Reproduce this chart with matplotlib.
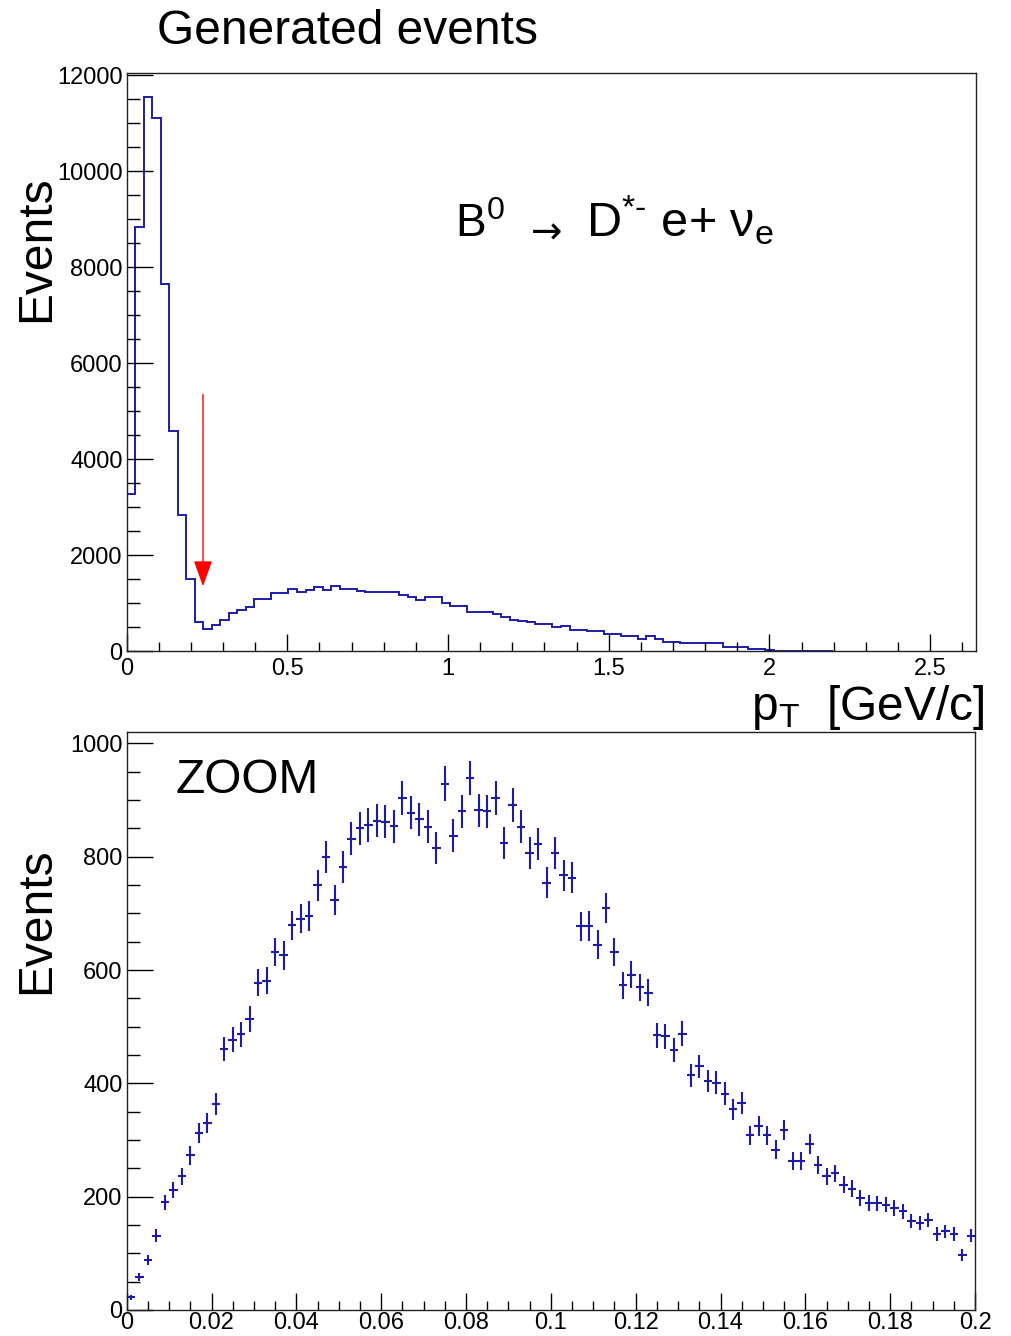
#!/bin/env python3
"""
Generated B0 -> D*- e+ nu_e events: pT spectrum and zoom of the low pT region.
"""
import numpy as np
import matplotlib
matplotlib.use('Agg')
import matplotlib.pyplot as plt
from matplotlib.ticker import MultipleLocator, FormatStrFormatter

# Full spectrum, fixed-width bins starting at 0 [GeV/c]
full_bin_width: float = 0.0265
full_counts = [3280, 8830, 11540, 11120, 7650, 4590, 2830, 1500,
               600, 460, 550, 650, 785, 850, 915, 1075, 1075, 1200, 1200, 1300,
               1230, 1265, 1330, 1270, 1360, 1300, 1290, 1255, 1225, 1225,
               1225, 1225, 1170, 1130, 1060, 1130, 1130, 1000, 935, 935,
               810, 810, 810, 780, 710, 640, 625, 600, 560, 560,
               500, 515, 430, 430, 410, 410, 350, 350, 320, 320,
               245, 310, 245, 195, 195, 160, 160, 160, 160, 160,
               90, 90, 90, 50, 50, 20, 10, 8, 7, 6,
               5, 4, 3]

# Zoomed spectrum 0 - 0.2 GeV/c
zoom_bin_width: float = 0.002
zoom_counts = [22, 58, 88, 131, 190, 212, 236, 273, 313, 330,
               364, 461, 477, 487, 514, 578, 581, 632, 626, 679,
               691, 695, 750, 799, 724, 782, 832, 850, 856, 864,
               862, 854, 904, 878, 866, 853, 815, 929, 837, 880,
               939, 882, 880, 904, 824, 891, 853, 806, 823, 754,
               806, 767, 763, 677, 678, 645, 710, 632, 573, 592,
               570, 560, 485, 483, 459, 488, 414, 430, 404, 401,
               382, 354, 365, 308, 325, 308, 283, 318, 263, 263,
               293, 256, 236, 241, 221, 214, 198, 189, 188, 186,
               180, 174, 157, 153, 159, 134, 139, 134, 97, 131]

# Cut marker (red arrow) on the full spectrum
cut_pt: float = 0.2375
arrow_from: float = 5350
arrow_to: float = 1350

HIST_COLOR = '#1c1ca8'
FONT = 'Liberation Sans'
BIG = 34.5  # titles, axis labels

plt.rcParams['font.family'] = [FONT, 'DejaVu Sans']
plt.rcParams['mathtext.fontset'] = 'custom'
plt.rcParams['mathtext.rm'] = FONT
plt.rcParams['mathtext.it'] = FONT
plt.rcParams['mathtext.bf'] = FONT + ':bold'


def style_axis(ax, x_major, x_minor, y_major, y_minor, x_pad=5):
    """ ROOT-like frame: inward ticks on the left and bottom only """
    ax.xaxis.set_major_locator(MultipleLocator(x_major))
    ax.xaxis.set_minor_locator(MultipleLocator(x_minor))
    ax.yaxis.set_major_locator(MultipleLocator(y_major))
    ax.yaxis.set_minor_locator(MultipleLocator(y_minor))
    ax.xaxis.set_major_formatter(FormatStrFormatter('%g'))
    ax.yaxis.set_major_formatter(FormatStrFormatter('%g'))
    ax.tick_params(axis='x', which='major', direction='in', length=12.3, width=1.0,
                   labelsize=17, pad=x_pad)
    ax.tick_params(axis='x', which='minor', direction='in', length=6.2, width=1.0)
    ax.tick_params(axis='y', which='major', direction='in', length=18.4, width=1.0,
                   labelsize=17, pad=3)
    ax.tick_params(axis='y', which='minor', direction='in', length=9.2, width=1.0)
    for sp in ax.spines.values():
        sp.set_linewidth(1.0)
        sp.set_color('#222222')


fig = plt.figure(figsize=(10.11, 13.36), dpi=100)

# ---- Full spectrum
ax1 = fig.add_axes([0.1253, 0.5127, 0.8401, 0.4330])
edges = np.arange(len(full_counts) + 1) * full_bin_width
ax1.stairs(full_counts, edges, color=HIST_COLOR, lw=1.4)
ax1.set_xlim(0, 2.643)
ax1.set_ylim(0, 12060)
style_axis(ax1, 0.5, 0.1, 2000, 500)
ax1.annotate('', xy=(cut_pt, arrow_to), xytext=(cut_pt, arrow_from),
             arrowprops=dict(arrowstyle='-|>,head_length=1.6,head_width=0.58',
                             mutation_scale=10, color='red', lw=1.0,
                             shrinkA=0, shrinkB=0))

# Decay label
ax1.text(0.3866, 0.716, r'B$^{0}$', transform=ax1.transAxes, fontsize=33, va='baseline')
ax1.text(0.4755, 0.705, '\u2192', transform=ax1.transAxes, fontsize=27, va='baseline',
         family='DejaVu Sans')
ax1.text(0.5405, 0.716, 'D$^{*\u2010}$ e+ \u03bd$_{e}$', transform=ax1.transAxes,
         fontsize=35, va='baseline')

# ---- Zoom
ax2 = fig.add_axes([0.1253, 0.0195, 0.8391, 0.4329])
centers = (np.arange(len(zoom_counts)) + 0.5) * zoom_bin_width
zoom_arr = np.array(zoom_counts, dtype=float)
ax2.errorbar(centers, zoom_arr, yerr=np.sqrt(zoom_arr), xerr=zoom_bin_width / 2,
             fmt='none', ecolor=HIST_COLOR, elinewidth=1.5, capsize=0)
ax2.set_xlim(0, 0.2)
ax2.set_ylim(0, 1021)
style_axis(ax2, 0.02, 0.005, 200, 50, x_pad=1.5)
ax2.text(0.057, 0.894, 'ZOOM', transform=ax2.transAxes, fontsize=BIG, va='baseline')

# ---- Figure texts
fig.text(157 / 1011, 1 - 44 / 1336, 'Generated events', fontsize=BIG, va='baseline')
fig.text(37 / 1011, 1 - 249 / 1336, 'Events', fontsize=BIG, rotation=90,
         ha='center', va='center')
fig.text(37 / 1011, 1 - 921 / 1336, 'Events', fontsize=BIG, rotation=90,
         ha='center', va='center')
fig.text(985 / 1011, 1 - 720 / 1336, r'p$_{T}$  [GeV/c]', fontsize=BIG,
         ha='right', va='baseline')

fig.savefig('out.png', dpi=100)
